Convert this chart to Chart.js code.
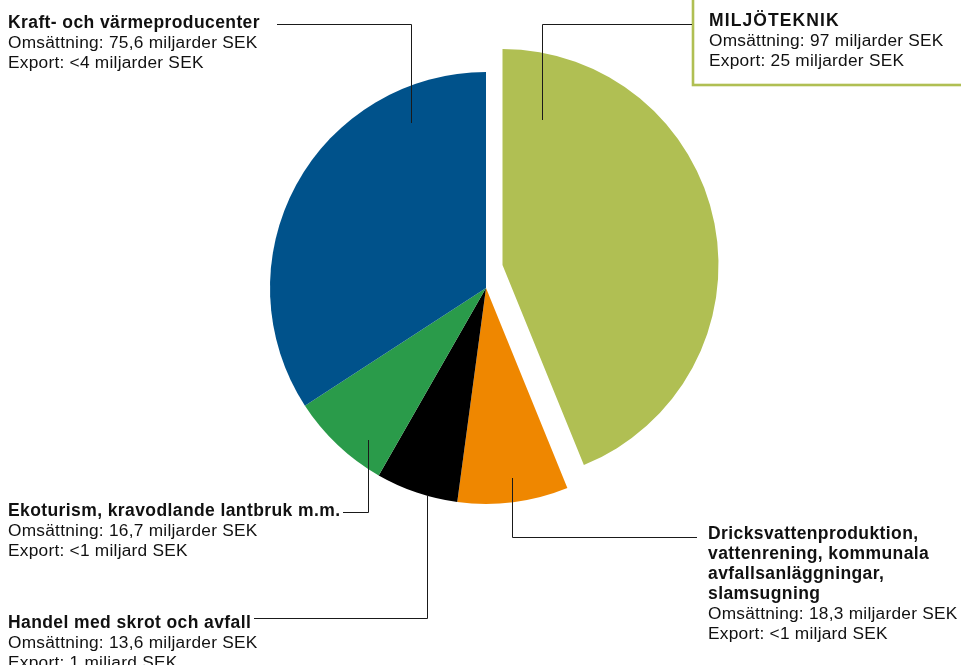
<!DOCTYPE html>
<html lang="sv">
<head>
<meta charset="utf-8">
<script src="https://cdn.jsdelivr.net/npm/chart.js@4.4.1/dist/chart.umd.min.js"></script>
<style>
  html, body { margin: 0; padding: 0; background: #fff; }
  #wrap { position: relative; width: 961px; height: 665px; }
</style>
</head>
<body>
<div id="wrap"><canvas id="chart"></canvas></div>
<script>
// values, miljarder SEK, clockwise from 12 o'clock
const categories = [
    "MILJÖTEKNIK",
    "Dricksvattenproduktion, vattenrening, kommunala avfallsanläggningar, slamsugning",
    "Handel med skrot och avfall",
    "Ekoturism, kravodlande lantbruk m.m.",
    "Kraft- och värmeproducenter"
];
const titleLines = [
    ["MILJÖTEKNIK"],
    ["Dricksvattenproduktion,", "vattenrening, kommunala", "avfallsanläggningar,", "slamsugning"],
    ["Handel med skrot och avfall"],
    ["Ekoturism, kravodlande lantbruk m.m."],
    ["Kraft- och värmeproducenter"]
];
const turnover = [97, 18.3, 13.6, 16.7, 75.6];
const exportText = ["25 miljarder SEK", "<1 miljard SEK", "1 miljard SEK", "<1 miljard SEK", "<4 miljarder SEK"];

const colors = ["#b0bf53", "#ef8700", "#000000", "#2a9b4a", "#00528b"];

// where each label block sits and how its leader line runs
const labelLayout = [
    { x: 709, y: 26, spacing: 1.1, leader: [[692, 24.5], [542.5, 24.5], [542.5, 120]] },
    { x: 708, y: 539, spacing: 0.4, leader: [[697, 537.5], [512.5, 537.5], [512.5, 478]] },
    { x: 8, y: 628, spacing: 0.4, leader: [[254, 618.5], [427.5, 618.5], [427.5, 496]] },
    { x: 8, y: 516, spacing: 0.4, leader: [[343, 512.5], [368.5, 512.5], [368.5, 440]] },
    { x: 8, y: 28, spacing: 0.4, leader: [[277, 24.5], [411.5, 24.5], [411.5, 123]] }
];
const explodeShift = { dx: 16.5, dy: -23 };
const FONT = "'Liberation Sans', Arial, sans-serif";
const LINE_H = 20;

function fmt(v) {
    return String(v).replace(".", ",");
}

const explodePlugin = {
    id: "explode",
    beforeDatasetsDraw(chart) {
        const el = chart.getDatasetMeta(0).data[0];
        if (el && !el._shifted) {
            const orig = Object.getPrototypeOf(el).draw;
            el.draw = function (ctx, area) {
                ctx.save();
                ctx.translate(explodeShift.dx, explodeShift.dy);
                orig.call(this, ctx, area);
                ctx.restore();
            };
            el._shifted = true;
        }
    }
};

const labelPlugin = {
    id: "labels",
    afterDraw(chart) {
        const ctx = chart.ctx;
        ctx.save();

        // box round the Miljöteknik label
        ctx.strokeStyle = colors[0];
        ctx.lineWidth = 2.6;
        ctx.fillStyle = "#fff";
        ctx.fillRect(693, -10, 300, 95);
        ctx.strokeRect(693, -10, 300, 95);

        labelLayout.forEach((lay, i) => {
            // leader line
            ctx.strokeStyle = "#1a1a1a";
            ctx.lineWidth = 1;
            ctx.beginPath();
            lay.leader.forEach((p, k) => (k ? ctx.lineTo(p[0], p[1]) : ctx.moveTo(p[0], p[1])));
            ctx.stroke();

            ctx.fillStyle = "#111";
            ctx.textBaseline = "alphabetic";
            ctx.textAlign = "left";
            let y = lay.y;
            ctx.font = "bold 17.5px " + FONT;
            ctx.letterSpacing = lay.spacing + "px";
            titleLines[i].forEach((t) => {
                ctx.fillText(t, lay.x, y);
                y += LINE_H;
            });
            ctx.letterSpacing = "0.25px";
            ctx.font = "17.3px " + FONT;
            ctx.fillText("Omsättning: " + fmt(turnover[i]) + " miljarder SEK", lay.x, y);
            y += LINE_H;
            ctx.fillText("Export: " + exportText[i], lay.x, y);
        });
        ctx.restore();
    }
};

new Chart(document.getElementById("chart"), {
    type: "pie",
    data: {
        labels: categories,
        datasets: [
            {
                data: turnover,
                backgroundColor: colors,
                borderWidth: 0
            }
        ]
    },
    options: {
        responsive: true,
        maintainAspectRatio: false,
        animation: false,
        radius: 216,
        layout: { padding: { left: 11, right: 0, top: 0, bottom: 89 } },
        plugins: {
            legend: { display: false },
            tooltip: { enabled: false }
        }
    },
    plugins: [explodePlugin, labelPlugin]
});
</script>
</body>
</html>
